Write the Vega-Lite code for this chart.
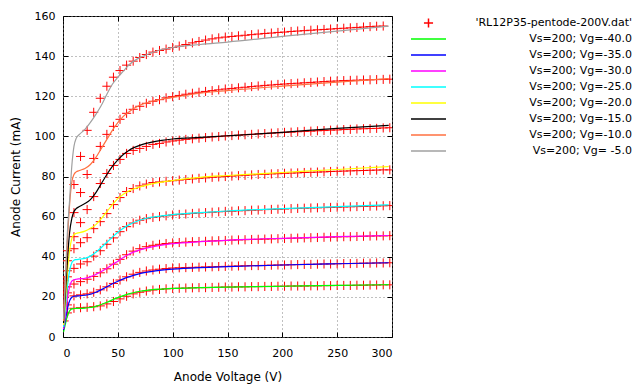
{
  "$schema": "https://vega.github.io/schema/vega-lite/v6.json",
  "width": 329,
  "height": 321,
  "autosize": "none",
  "padding": {"left": 63, "top": 16, "right": 248, "bottom": 50},
  "background": "white",
  "config": {
    "view": {"stroke": "#000000", "strokeWidth": 1},
    "axis": {
      "domain": false,
      "tickColor": "#000000",
      "tickSize": -5,
      "tickWidth": 1,
      "labelFont": "DejaVu Sans",
      "labelFontSize": 11,
      "labelColor": "#000000",
      "titleFont": "DejaVu Sans",
      "titleFontSize": 12,
      "titleFontWeight": "normal",
      "titleColor": "#000000",
      "gridColor": "#808080",
      "gridDash": [1, 3],
      "gridWidth": 1,
      "gridOpacity": 1
    },
    "legend": {
      "orient": "none",
      "legendX": 347,
      "legendY": -1,
      "padding": 0,
      "title": null,
      "clipHeight": 16,
      "rowPadding": 0,
      "symbolSize": 1225,
      "symbolStrokeWidth": 1.5,
      "labelFont": "DejaVu Sans",
      "labelFontSize": 11,
      "labelColor": "#000000",
      "labelAlign": "right",
      "labelOffset": 185,
      "labelLimit": 400
    }
  },
  "datasets": {
    "pts": [
      {"v":1,"a":8,"b":11,"c":14,"d":17,"e":20,"f":22.5,"g":25,"h":28},
      {"v":4,"a":12,"b":16,"c":22,"d":25,"e":30,"f":33,"g":38,"h":43},
      {"v":10,"a":14.3,"b":20.5,"c":26.4,"d":34.2,"e":44,"f":50,"g":62,"h":76},
      {"v":16,"a":14.6,"b":21,"c":27.6,"d":36.4,"e":47,"f":57,"g":72,"h":90},
      {"v":22,"a":14.8,"b":21.5,"c":28.8,"d":37.5,"e":49.5,"f":63.5,"g":81,"h":103},
      {"v":28,"a":15.1,"b":22.3,"c":30.2,"d":40.3,"e":54,"f":70,"g":89,"h":112},
      {"v":34,"a":15.5,"b":23.5,"c":32,"d":43,"e":57.5,"f":76.5,"g":95,"h":119},
      {"v":40,"a":16.5,"b":25,"c":34,"d":46.2,"e":61.5,"f":81.5,"g":101,"h":125},
      {"v":46,"a":17.7,"b":26.7,"c":36.3,"d":49.4,"e":66,"f":85.5,"g":105,"h":129.5},
      {"v":52,"a":19,"b":28.4,"c":38.7,"d":52.5,"e":69.5,"f":88.5,"g":108.5,"h":132.8},
      {"v":58,"a":20.3,"b":30,"c":41,"d":55,"e":72.5,"f":91.5,"g":111.5,"h":135.5},
      {"v":64,"a":21.5,"b":31.3,"c":42.8,"d":56.8,"e":74,"f":93,"g":113.5,"h":137.5},
      {"v":70,"a":22.3,"b":32.2,"c":44,"d":58.2,"e":75.3,"f":94,"g":115,"h":139.3},
      {"v":76,"a":22.9,"b":32.9,"c":45,"d":59,"e":76.2,"f":95,"g":116.5,"h":140.8},
      {"v":82,"a":23.4,"b":33.4,"c":45.7,"d":59.6,"e":77,"f":96,"g":117.5,"h":142},
      {"v":88,"a":23.7,"b":33.8,"c":46.2,"d":60,"e":77.3,"f":96.5,"g":118.3,"h":142.8},
      {"v":94,"a":24,"b":34.1,"c":46.6,"d":60.4,"e":77.6,"f":97.2,"g":119.2,"h":143.5},
      {"v":100,"a":24.2,"b":34.4,"c":46.9,"d":60.8,"e":77.9,"f":97.7,"g":119.8,"h":144.3},
      {"v":106,"a":24.3,"b":34.5,"c":47.1,"d":61.1,"e":78.2,"f":98.1,"g":120.4,"h":145},
      {"v":112,"a":24.4,"b":34.6,"c":47.3,"d":61.3,"e":78.5,"f":98.5,"g":121,"h":145.8},
      {"v":118,"a":24.5,"b":34.7,"c":47.5,"d":61.6,"e":78.8,"f":98.8,"g":121.5,"h":146.6},
      {"v":124,"a":24.6,"b":34.8,"c":47.6,"d":61.8,"e":79.1,"f":99.1,"g":122,"h":147.3},
      {"v":130,"a":24.6,"b":34.9,"c":47.7,"d":62,"e":79.3,"f":99.4,"g":122.4,"h":148},
      {"v":136,"a":24.7,"b":35,"c":47.9,"d":62.2,"e":79.6,"f":99.7,"g":122.8,"h":148.6},
      {"v":142,"a":24.8,"b":35.1,"c":48,"d":62.4,"e":79.8,"f":99.9,"g":123.2,"h":149.1},
      {"v":148,"a":24.9,"b":35.2,"c":48.1,"d":62.6,"e":80,"f":100.2,"g":123.6,"h":149.5},
      {"v":154,"a":24.9,"b":35.3,"c":48.3,"d":62.7,"e":80.2,"f":100.4,"g":123.9,"h":149.8},
      {"v":160,"a":25,"b":35.4,"c":48.4,"d":62.9,"e":80.4,"f":100.6,"g":124.2,"h":150.1},
      {"v":166,"a":25,"b":35.5,"c":48.5,"d":63,"e":80.6,"f":100.8,"g":124.5,"h":150.4},
      {"v":172,"a":25.1,"b":35.6,"c":48.6,"d":63.2,"e":80.8,"f":101,"g":124.8,"h":150.7},
      {"v":178,"a":25.1,"b":35.6,"c":48.7,"d":63.3,"e":81,"f":101.2,"g":125.1,"h":151},
      {"v":184,"a":25.2,"b":35.7,"c":48.8,"d":63.5,"e":81.1,"f":101.4,"g":125.4,"h":151.3},
      {"v":190,"a":25.2,"b":35.8,"c":48.9,"d":63.6,"e":81.3,"f":101.6,"g":125.6,"h":151.5},
      {"v":196,"a":25.3,"b":35.9,"c":49,"d":63.7,"e":81.4,"f":101.8,"g":125.9,"h":151.8},
      {"v":202,"a":25.3,"b":35.9,"c":49.1,"d":63.8,"e":81.6,"f":102,"g":126.1,"h":152},
      {"v":208,"a":25.4,"b":36,"c":49.2,"d":64,"e":81.7,"f":102.1,"g":126.3,"h":152.3},
      {"v":214,"a":25.4,"b":36.1,"c":49.3,"d":64.1,"e":81.8,"f":102.3,"g":126.5,"h":152.5},
      {"v":220,"a":25.4,"b":36.2,"c":49.4,"d":64.2,"e":82,"f":102.5,"g":126.7,"h":152.7},
      {"v":226,"a":25.5,"b":36.2,"c":49.5,"d":64.3,"e":82.1,"f":102.6,"g":126.9,"h":152.9},
      {"v":232,"a":25.5,"b":36.3,"c":49.6,"d":64.4,"e":82.2,"f":102.8,"g":127.1,"h":153.1},
      {"v":238,"a":25.6,"b":36.4,"c":49.7,"d":64.5,"e":82.3,"f":102.9,"g":127.3,"h":153.3},
      {"v":244,"a":25.6,"b":36.4,"c":49.8,"d":64.6,"e":82.5,"f":103.1,"g":127.5,"h":153.5},
      {"v":250,"a":25.7,"b":36.5,"c":49.9,"d":64.7,"e":82.6,"f":103.2,"g":127.6,"h":153.7},
      {"v":256,"a":25.7,"b":36.6,"c":50,"d":64.8,"e":82.7,"f":103.4,"g":127.8,"h":153.9},
      {"v":262,"a":25.7,"b":36.6,"c":50,"d":64.9,"e":82.8,"f":103.5,"g":127.9,"h":154.1},
      {"v":268,"a":25.8,"b":36.7,"c":50.1,"d":65,"e":82.9,"f":103.7,"g":128,"h":154.3},
      {"v":274,"a":25.8,"b":36.8,"c":50.2,"d":65.1,"e":83,"f":103.8,"g":128.1,"h":154.5},
      {"v":280,"a":25.9,"b":36.8,"c":50.3,"d":65.2,"e":83.1,"f":103.9,"g":128.2,"h":154.7},
      {"v":286,"a":25.9,"b":36.9,"c":50.4,"d":65.3,"e":83.2,"f":104,"g":128.3,"h":154.9},
      {"v":292,"a":26,"b":36.9,"c":50.4,"d":65.4,"e":83.3,"f":104.2,"g":128.4,"h":155},
      {"v":298,"a":26,"b":37,"c":50.5,"d":65.5,"e":83.3,"f":104.3,"g":128.5}
    ],
    "fit": [
      {"v":0.5,"a":2.5,"b":3.5,"c":4,"d":5,"e":6,"f":7,"g":8,"h":9},
      {"v":2,"a":6,"b":8,"c":10,"d":13,"e":16,"f":20,"g":25,"h":28},
      {"v":4,"a":10.5,"b":14,"c":19,"d":25,"e":32,"f":38,"g":48,"h":52},
      {"v":6,"a":13,"b":18,"c":25,"d":33,"e":43,"f":52,"g":66,"h":68},
      {"v":8,"a":14,"b":19.8,"c":27.8,"d":37,"e":49,"f":59,"g":77,"h":85},
      {"v":10,"a":14.2,"b":20.3,"c":28.5,"d":38.3,"e":51,"f":62.5,"g":81,"h":95},
      {"v":12,"a":14.3,"b":20.4,"c":28.8,"d":38.6,"e":51.6,"f":64,"g":82.3,"h":99},
      {"v":15,"a":14.3,"b":20.5,"c":29,"d":38.8,"e":52,"f":65,"g":83,"h":101},
      {"v":20,"a":14.4,"b":20.8,"c":29.3,"d":39.2,"e":52.8,"f":66.5,"g":84,"h":103.5},
      {"v":25,"a":14.7,"b":21.3,"c":30,"d":40.3,"e":54.2,"f":68.5,"g":86,"h":107},
      {"v":30,"a":15.3,"b":22.3,"c":31.2,"d":42.2,"e":56,"f":72,"g":89.5,"h":111},
      {"v":35,"a":16.2,"b":23.6,"c":32.6,"d":44.6,"e":59,"f":76.5,"g":94,"h":115.5},
      {"v":40,"a":17.3,"b":25,"c":34.3,"d":47.2,"e":62.5,"f":81,"g":98.5,"h":121},
      {"v":45,"a":18.5,"b":26.5,"c":36.1,"d":49.8,"e":66,"f":85,"g":103,"h":126},
      {"v":50,"a":19.6,"b":27.8,"c":37.8,"d":52.2,"e":69,"f":88.3,"g":106.8,"h":129.5},
      {"v":55,"a":20.6,"b":29,"c":39.6,"d":54.2,"e":71.2,"f":91,"g":110,"h":132.5},
      {"v":60,"a":21.5,"b":30,"c":41.2,"d":55.9,"e":72.8,"f":93,"g":112.2,"h":135.6},
      {"v":70,"a":22.8,"b":31.6,"c":43.4,"d":58.2,"e":74.8,"f":95.5,"g":115.5,"h":139.3},
      {"v":80,"a":23.5,"b":32.6,"c":44.8,"d":59.6,"e":76.2,"f":97,"g":117.3,"h":141.5},
      {"v":90,"a":23.9,"b":33.3,"c":45.8,"d":60.4,"e":77.2,"f":98,"g":118.5,"h":143.3},
      {"v":100,"a":24.2,"b":33.8,"c":46.5,"d":61,"e":78,"f":98.7,"g":119.4,"h":144.3},
      {"v":125,"a":24.6,"b":34.6,"c":47.5,"d":62,"e":79.6,"f":99.5,"g":121.5,"h":145.8},
      {"v":150,"a":24.9,"b":35.1,"c":48.2,"d":62.8,"e":80.5,"f":100.3,"g":122.8,"h":147},
      {"v":200,"a":25.3,"b":35.9,"c":49.2,"d":64,"e":82,"f":102,"g":125,"h":149.8},
      {"v":250,"a":25.7,"b":36.5,"c":50,"d":65,"e":83.5,"f":104,"g":127,"h":152.5},
      {"v":297,"a":26.1,"b":37,"c":50.6,"d":65.9,"e":85,"f":105.5,"g":128.8,"h":155}
    ]
  },
  "layer": [
    {
      "data": {"name": "pts"},
      "transform": [{"fold": ["a","b","c","d","e","f","g","h"], "as": ["s","i"]}],
      "mark": {"type": "point", "filled": false, "strokeWidth": 1, "size": 1225, "opacity": 1, "clip": true},
      "encoding": {
        "x": {"field": "v", "type": "quantitative", "scale": {"domain": [0, 300], "nice": false},
              "axis": {"orient": "bottom", "title": "Anode Voltage (V)", "values": [0,50,100,150,200,250,300], "grid": true, "labelPadding": 15, "titlePadding": 13}},
        "y": {"field": "i", "type": "quantitative", "scale": {"domain": [0, 160], "nice": false},
              "axis": {"orient": "left", "title": "Anode Current (mA)", "values": [0,20,40,60,80,100,120,140,160], "grid": true, "labelPadding": 13, "titlePadding": 12}},
        "color": {"datum": "dat", "type": "nominal",
                  "scale": {"domain": ["dat","a","b","c","d","e","f","g","h"], "range": ["#ff0000","#00ff00","#0000ff","#ff00ff","#00ffff","#ffff00","#000000","#ff7040","#a0a0a0"]},
                  "legend": {"labelExpr": "{'dat': \"'RL12P35-pentode-200V.dat'\", 'a': 'Vs=200; Vg=-40.0', 'b': 'Vs=200; Vg=-35.0', 'c': 'Vs=200; Vg=-30.0', 'd': 'Vs=200; Vg=-25.0', 'e': 'Vs=200; Vg=-20.0', 'f': 'Vs=200; Vg=-15.0', 'g': 'Vs=200; Vg=-10.0', 'h': 'Vs=200; Vg= -5.0'}[datum.value]"}},
        "shape": {"datum": "dat", "type": "nominal",
                  "scale": {"domain": ["dat","a","b","c","d","e","f","g","h"], "range": ["M-0.26,0H0.26M0,-0.26V0.26","stroke","stroke","stroke","stroke","stroke","stroke","stroke","stroke"]},
                  "legend": {"labelExpr": "{'dat': \"'RL12P35-pentode-200V.dat'\", 'a': 'Vs=200; Vg=-40.0', 'b': 'Vs=200; Vg=-35.0', 'c': 'Vs=200; Vg=-30.0', 'd': 'Vs=200; Vg=-25.0', 'e': 'Vs=200; Vg=-20.0', 'f': 'Vs=200; Vg=-15.0', 'g': 'Vs=200; Vg=-10.0', 'h': 'Vs=200; Vg= -5.0'}[datum.value]"}}
      }
    },
    {
      "data": {"name": "fit"},
      "transform": [{"fold": ["a","b","c","d","e","f","g","h"], "as": ["s","i"]}],
      "mark": {"type": "line", "strokeWidth": 1.2, "interpolate": "monotone", "clip": true},
      "encoding": {
        "x": {"field": "v", "type": "quantitative", "scale": {"domain": [0, 300], "nice": false},
              "axis": {"orient": "top", "title": null, "labels": false, "grid": false, "values": [0,50,100,150,200,250,300]}},
        "y": {"field": "i", "type": "quantitative", "scale": {"domain": [0, 160], "nice": false},
              "axis": {"orient": "right", "title": null, "labels": false, "grid": false, "values": [0,20,40,60,80,100,120,140,160]}},
        "color": {"field": "s", "type": "nominal",
                  "scale": {"domain": ["dat","a","b","c","d","e","f","g","h"], "range": ["#ff0000","#00ff00","#0000ff","#ff00ff","#00ffff","#ffff00","#000000","#ff7040","#a0a0a0"]},
                  "legend": null}
      }
    }
  ],
  "resolve": {"axis": {"x": "independent", "y": "independent"}}
}
